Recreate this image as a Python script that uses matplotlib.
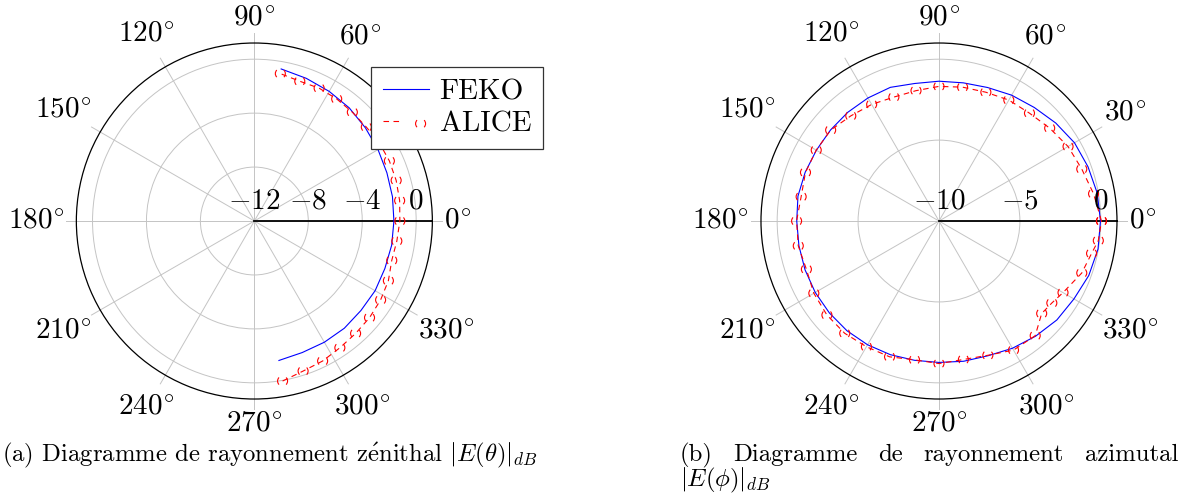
import numpy as np
import matplotlib.pyplot as plt
from matplotlib.legend_handler import HandlerTuple

plt.rcParams['mathtext.fontset'] = 'cm'
plt.rcParams['font.family'] = ['cmr10', 'DejaVu Serif']
plt.rcParams['axes.unicode_minus'] = False

# diagramme zenithal (a)
theta_feko = [-80, -70, -60, -50, -40, -30, -20, -10, 0, 10, 20, 30, 40, 50, 60, 70, 80]
feko_zen = [-1.50, -1.62, -1.62, -1.62, -1.68, -1.66, -1.70, -1.66, -1.65, -1.60,
            -1.54, -1.41, -1.25, -1.05, -0.90, -0.74, -0.55]
theta_alice = [-80, -72, -64, -56, -48, -40, -32, -24, -16, -8, 0, 8, 16, 24, 32,
               40, 48, 56, 64, 72, 80]
alice_zen = [0.05, -0.30, -0.45, -0.66, -0.78, -0.85, -0.96, -1.12, -1.40, -1.33, -1.21,
             -1.12, -1.06, -1.04, -1.07, -1.16, -1.14, -1.08, -1.04, -1.10, -0.90]

# diagramme azimutal (b)
phi_feko = [0, 10, 20, 30, 40, 50, 60, 70, 80, 90, 100, 110, 120, 130, 140, 150, 160, 170,
            180, 190, 200, 210, 220, 230, 240, 250, 260, 270, 280, 290, 300, 310, 320,
            330, 340, 350]
feko_azi = [-0.02, -0.07, -0.20, -0.33, -0.58, -0.84, -1.02, -1.22, -1.33, -1.36,
            -1.37, -1.21, -1.22, -1.23, -1.25, -1.25, -1.20, -1.15, -1.21, -1.21,
            -1.19, -1.17, -1.16, -1.15, -1.17, -1.21, -1.26, -1.26, -1.20, -1.14,
            -0.92, -0.71, -0.49, -0.37, -0.15, -0.02]
phi_alice = [0, 10, 20, 30, 40, 50, 60, 70, 80, 90, 100, 110, 120, 130, 140, 150, 160, 170,
             180, 190, 200, 210, 220, 230, 240, 250, 260, 270, 280, 290, 300, 310, 318,
             324, 330, 340, 348, 353]
alice_azi = [0.04, -0.30, -0.61, -0.79, -1.07, -1.30, -1.37, -1.53, -1.60, -1.68,
             -1.82, -1.85, -1.68, -1.52, -1.26, -1.24, -1.22, -1.35, -1.20, -1.17,
             -1.28, -1.07, -0.96, -0.94, -1.03, -1.07, -1.29, -1.19, -1.31, -1.17,
             -0.79, -0.75, -1.46, -1.38, -1.15, -0.61, -0.36, -0.08]

angle_ticks = [0, 30, 60, 90, 120, 150, 180, 210, 240, 270, 300, 330]

grid_c = '#c4c4c4'
fs = 21

fig = plt.figure(figsize=(11.8, 4.95), dpi=100)
renderer = fig.canvas.get_renderer()
px2pt = 72 / fig.dpi


def setup_polar(rect, rmin, rmax, rticks):
    ax = fig.add_axes(rect, projection='polar')
    ax.set_ylim(rmin, rmax)
    ax.set_xticks(np.deg2rad(angle_ticks))
    ax.set_xticklabels([])
    ax.set_yticks(rticks)
    ax.set_yticklabels([])
    ax.grid(axis='x', visible=False)
    ax.grid(axis='y', color=grid_c, lw=0.7)
    ax.spines['polar'].set_color('black')
    ax.spines['polar'].set_linewidth(0.9)
    ax.tick_params(length=0)
    ext = (rmax - rmin) * 10 / 178
    for a in angle_ticks:
        ax.plot([np.deg2rad(a)] * 2, [rmin, rmax + ext], color=grid_c, lw=0.7,
                clip_on=False, zorder=0.5)
    ax.plot([0, 0], [rmin, rmax], color='black', lw=1.3, zorder=2.5)
    # radial labels on the 0 degree line
    for r in [rmin] + list(rticks):
        ax.annotate(r'$%d$' % r, xy=(0, r), xytext=(0, 9), textcoords='offset points',
                    ha='center', va='baseline', fontsize=fs, zorder=4)
    # angle labels, pushed out so that the box just clears ~12 px outside the circle
    for a in angle_ticks:
        c, s = np.cos(np.deg2rad(a)), np.sin(np.deg2rad(a))
        t = ax.annotate(r'$%d^{\!\circ}$' % a, xy=(np.deg2rad(a), rmax), xytext=(0, 0),
                        textcoords='offset points', ha='center', va='center',
                        fontsize=fs, annotation_clip=False)
        bb = t.get_window_extent(renderer)
        d = 12 + abs(c) * bb.width / 2 + abs(s) * bb.height / 2
        t.xyann = (d * c * px2pt, d * s * px2pt)
    return ax


def draw_alice(ax, ang, vals):
    t = np.deg2rad(ang)
    ln, = ax.plot(t, vals, color='red', lw=0.8, ls=(0, (5, 4)), zorder=3)
    # dashed circle marks: arcs on the left and right, gaps top and bottom
    diam, lw = 7.2, 0.8
    circ = np.pi * diam
    on = circ / 4 / lw
    sc = ax.scatter(t, vals, s=diam ** 2, facecolors='none', edgecolors='red',
                    linewidths=lw, linestyles=[(3 * circ / 8 / lw, (on, on))], zorder=3)
    return ln, sc


# (a)
ax1 = setup_polar([0.0647, 0.1939, 0.3017, 0.7192], -12, 1.2, [-8, -4, 0])
feko1, = ax1.plot(np.deg2rad(theta_feko), feko_zen, color='blue', lw=0.8, zorder=3)
al_ln, al_sc = draw_alice(ax1, theta_alice, alice_zen)
leg = fig.legend([feko1, (al_ln, al_sc)], ['FEKO', 'ALICE'],
                 handler_map={tuple: HandlerTuple(ndivide=None)},
                 loc='upper left', bbox_to_anchor=(371 / 1180, 1 - 67 / 495),
                 borderaxespad=0, fontsize=fs, fancybox=False, framealpha=1,
                 edgecolor='#333333', handlelength=1.6, handletextpad=0.35,
                 borderpad=0.4, labelspacing=0.2, scatterpoints=1)
leg.get_frame().set_linewidth(0.9)

# (b)
ax2 = setup_polar([0.6449, 0.1939, 0.3017, 0.7192], -10, 1.0, [-5, 0])
ax2.plot(np.deg2rad(phi_feko + [phi_feko[0]]), feko_azi + [feko_azi[0]],
         color='blue', lw=0.8, zorder=3)
draw_alice(ax2, phi_alice + [360], alice_azi + [alice_azi[0]])

# captions
cap_fs = 17.8
fig.text(2 / 1180, 1 - 461 / 495,
         r'(a) Diagramme de rayonnement z$\acute{\mathrm{e}}$nithal $|E(\theta)|_{dB}$',
         fontsize=cap_fs, ha='left', va='baseline')

words = ['(b)', 'Diagramme', 'de', 'rayonnement', 'azimutal']
texts = [fig.text(0, 1 - 461 / 495, w, fontsize=cap_fs, ha='left', va='baseline') for w in words]
widths = [t.get_window_extent(renderer).width for t in texts]
x0, x1 = 680, 1178
gap = (x1 - x0 - sum(widths)) / (len(words) - 1)
x = x0
for t, w in zip(texts, widths):
    t.set_x(x / 1180)
    x += w + gap
fig.text(680 / 1180, 1 - 486 / 495, r'$|E(\phi)|_{dB}$', fontsize=cap_fs,
         ha='left', va='baseline')

fig.savefig('out.png', dpi=100)
